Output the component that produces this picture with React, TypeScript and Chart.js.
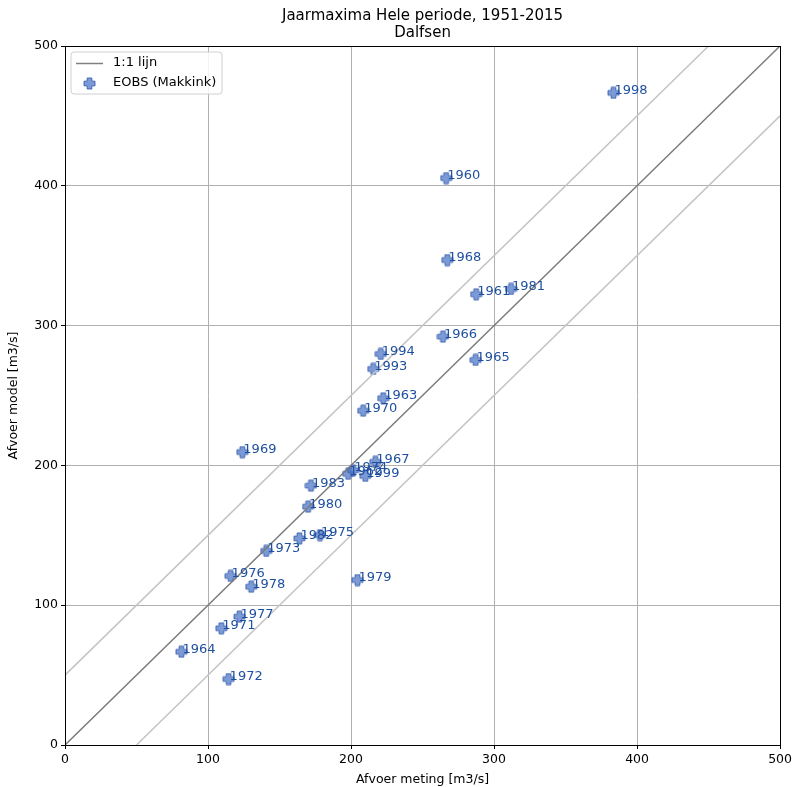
import React, { useEffect, useRef } from "react";
import { Chart, registerables } from "chart.js";

Chart.register(...registerables);

const years = [1998, 1960, 1968, 1961, 1981, 1966, 1965, 1994, 1993, 1963, 1970, 1969, 1967, 1962, 1974, 1999, 1983, 1980, 1982, 1975, 1973, 1976, 1978, 1979, 1977, 1971, 1964, 1972];
const meting = [383.5, 266.5, 267.3, 287.5, 311.9, 264.3, 287.1, 220.8, 215.5, 222.5, 208.5, 124, 217, 198, 201.5, 210, 172, 170, 163.9, 178.3, 140.7, 115.8, 130.2, 204.5, 122, 109.3, 81.4, 114.4];
const model = [466.5, 405.5, 346.9, 322.4, 326.2, 292.1, 275.4, 279.7, 269, 248, 239.1, 209.5, 202.5, 194, 196.5, 192.5, 185.5, 170.5, 147.8, 150.2, 138.8, 120.9, 113.2, 118, 91.8, 83.5, 66.7, 47.2];
const axisTicks = [0, 100, 200, 300, 400, 500];
const titleLines = ["Jaarmaxima Hele periode, 1951-2015", "Dalfsen"];
const xTitle = "Afvoer meting [m3/s]";
const yTitle = "Afvoer model [m3/s]";
const legendLabels = ["1:1 lijn", "EOBS (Makkink)"];

const FONT = "'DejaVu Sans', sans-serif";
const MARKER_FILL = "rgba(80,120,200,0.75)";
const MARKER_EDGE = "rgba(50,90,170,0.85)";
const LABEL_COLOR = "#1f4f9f";

function makePlus(size: number): HTMLCanvasElement {
  const c = document.createElement("canvas");
  c.width = size;
  c.height = size;
  const ctx = c.getContext("2d")!;
  const s = size;
  const a = s * 0.32;
  const b = s * 0.68;
  const p = 1;
  ctx.beginPath();
  ctx.moveTo(a, p);
  ctx.lineTo(b, p);
  ctx.lineTo(b, a);
  ctx.lineTo(s - p, a);
  ctx.lineTo(s - p, b);
  ctx.lineTo(b, b);
  ctx.lineTo(b, s - p);
  ctx.lineTo(a, s - p);
  ctx.lineTo(a, b);
  ctx.lineTo(p, b);
  ctx.lineTo(p, a);
  ctx.lineTo(a, a);
  ctx.closePath();
  ctx.fillStyle = MARKER_FILL;
  ctx.fill();
  ctx.lineWidth = 1;
  ctx.strokeStyle = MARKER_EDGE;
  ctx.stroke();
  return c;
}

export default function App() {
  const ref = useRef<HTMLCanvasElement | null>(null);
  useEffect(() => {
    document.body.style.margin = "0";
    const plus = makePlus(13);
    const overlay = {
      id: "overlay",
      afterDatasetsDraw(chart: any) {
        const ctx = chart.ctx;
        const xs = chart.scales.x;
        const ys = chart.scales.y;
        ctx.save();
        ctx.font = "13px " + FONT;
        ctx.fillStyle = LABEL_COLOR;
        ctx.textAlign = "left";
        ctx.textBaseline = "alphabetic";
        for (let i = 0; i < years.length; i++) {
          ctx.fillText(String(years[i]), xs.getPixelForValue(meting[i]) + 1, ys.getPixelForValue(model[i]) + 1);
        }
        ctx.restore();
      },
      afterDraw(chart: any) {
        const ctx = chart.ctx;
        const ca = chart.chartArea;
        ctx.save();
        ctx.strokeStyle = "#000";
        ctx.lineWidth = 1;
        ctx.strokeRect(Math.round(ca.left) + 0.5, Math.round(ca.top) + 0.5, Math.round(ca.right - ca.left), Math.round(ca.bottom - ca.top));
        ctx.fillStyle = "#000";
        ctx.font = "15px " + FONT;
        ctx.textAlign = "center";
        ctx.textBaseline = "middle";
        const cx = (ca.left + ca.right) / 2;
        ctx.fillText(titleLines[0], cx, 16);
        ctx.fillText(titleLines[1], cx, 33);
        // legend box
        const lx = 71, ly = 52, lw = 151, lh = 42;
        const r = 3;
        ctx.beginPath();
        ctx.moveTo(lx + r, ly);
        ctx.lineTo(lx + lw - r, ly);
        ctx.quadraticCurveTo(lx + lw, ly, lx + lw, ly + r);
        ctx.lineTo(lx + lw, ly + lh - r);
        ctx.quadraticCurveTo(lx + lw, ly + lh, lx + lw - r, ly + lh);
        ctx.lineTo(lx + r, ly + lh);
        ctx.quadraticCurveTo(lx, ly + lh, lx, ly + lh - r);
        ctx.lineTo(lx, ly + r);
        ctx.quadraticCurveTo(lx, ly, lx + r, ly);
        ctx.closePath();
        ctx.fillStyle = "rgba(255,255,255,0.85)";
        ctx.fill();
        ctx.strokeStyle = "#d0d0d0";
        ctx.lineWidth = 1;
        ctx.stroke();
        ctx.beginPath();
        ctx.moveTo(76, 63.5);
        ctx.lineTo(103, 63.5);
        ctx.strokeStyle = "#808080";
        ctx.lineWidth = 1.5;
        ctx.stroke();
        ctx.drawImage(plus, 83, 77);
        ctx.fillStyle = "#000";
        ctx.font = "13px " + FONT;
        ctx.textAlign = "left";
        ctx.textBaseline = "middle";
        ctx.fillText(legendLabels[0], 113, 63);
        ctx.fillText(legendLabels[1], 113, 83);
        ctx.restore();
      },
    };
    const tickFont = { family: FONT, size: 12.5 };
    const chart = new Chart(ref.current!, {
      type: "scatter",
      data: {
        datasets: [
          {
            type: "line",
            label: "upper",
            data: [{ x: 0, y: 50 }, { x: 450, y: 500 }],
            borderColor: "#c4c4c4",
            borderWidth: 1.5,
            pointRadius: 0,
            showLine: true,
          },
          {
            type: "line",
            label: "lower",
            data: [{ x: 50, y: 0 }, { x: 500, y: 450 }],
            borderColor: "#c4c4c4",
            borderWidth: 1.5,
            pointRadius: 0,
            showLine: true,
          },
          {
            type: "line",
            label: legendLabels[0],
            data: [{ x: 0, y: 0 }, { x: 500, y: 500 }],
            borderColor: "#7a7a7a",
            borderWidth: 1.5,
            pointRadius: 0,
            showLine: true,
          },
          {
            label: legendLabels[1],
            data: meting.map((v, i) => ({ x: v, y: model[i] })),
            pointStyle: plus as any,
            pointRadius: 6,
          },
        ],
      },
      options: {
        animation: false,
        responsive: false,
        events: [],
        layout: { padding: { top: 46, right: 13, left: 6, bottom: 0 } },
        plugins: { legend: { display: false }, tooltip: { enabled: false }, title: { display: false } },
        scales: {
          x: {
            type: "linear",
            min: 0,
            max: 500,
            afterBuildTicks: (s: any) => { s.ticks = axisTicks.map((v) => ({ value: v })); },
            afterFit: (s: any) => { s.height = 42; },
            ticks: { color: "#000", font: tickFont, padding: 3, maxRotation: 0 },
            grid: { color: "#b0b0b0", lineWidth: 1, tickLength: 4, tickColor: "#000" },
            border: { color: "#000", width: 1 },
            title: { display: true, text: xTitle, color: "#000", font: tickFont, padding: { top: 0, bottom: 0 } },
          },
          y: {
            type: "linear",
            min: 0,
            max: 500,
            afterBuildTicks: (s: any) => { s.ticks = axisTicks.map((v) => ({ value: v })); },
            afterFit: (s: any) => { s.width = 59; },
            ticks: { color: "#000", font: tickFont, padding: 3 },
            grid: { color: "#b0b0b0", lineWidth: 1, tickLength: 4, tickColor: "#000" },
            border: { color: "#000", width: 1 },
            title: { display: true, text: yTitle, color: "#000", font: tickFont, padding: { top: 0, bottom: 0 } },
          },
        },
      },
      plugins: [overlay],
    } as any);
    return () => chart.destroy();
  }, []);
  return (
    <div style={{ width: 795, height: 787, background: "#fff" }}>
      <canvas ref={ref} width={795} height={787} />
    </div>
  );
}
